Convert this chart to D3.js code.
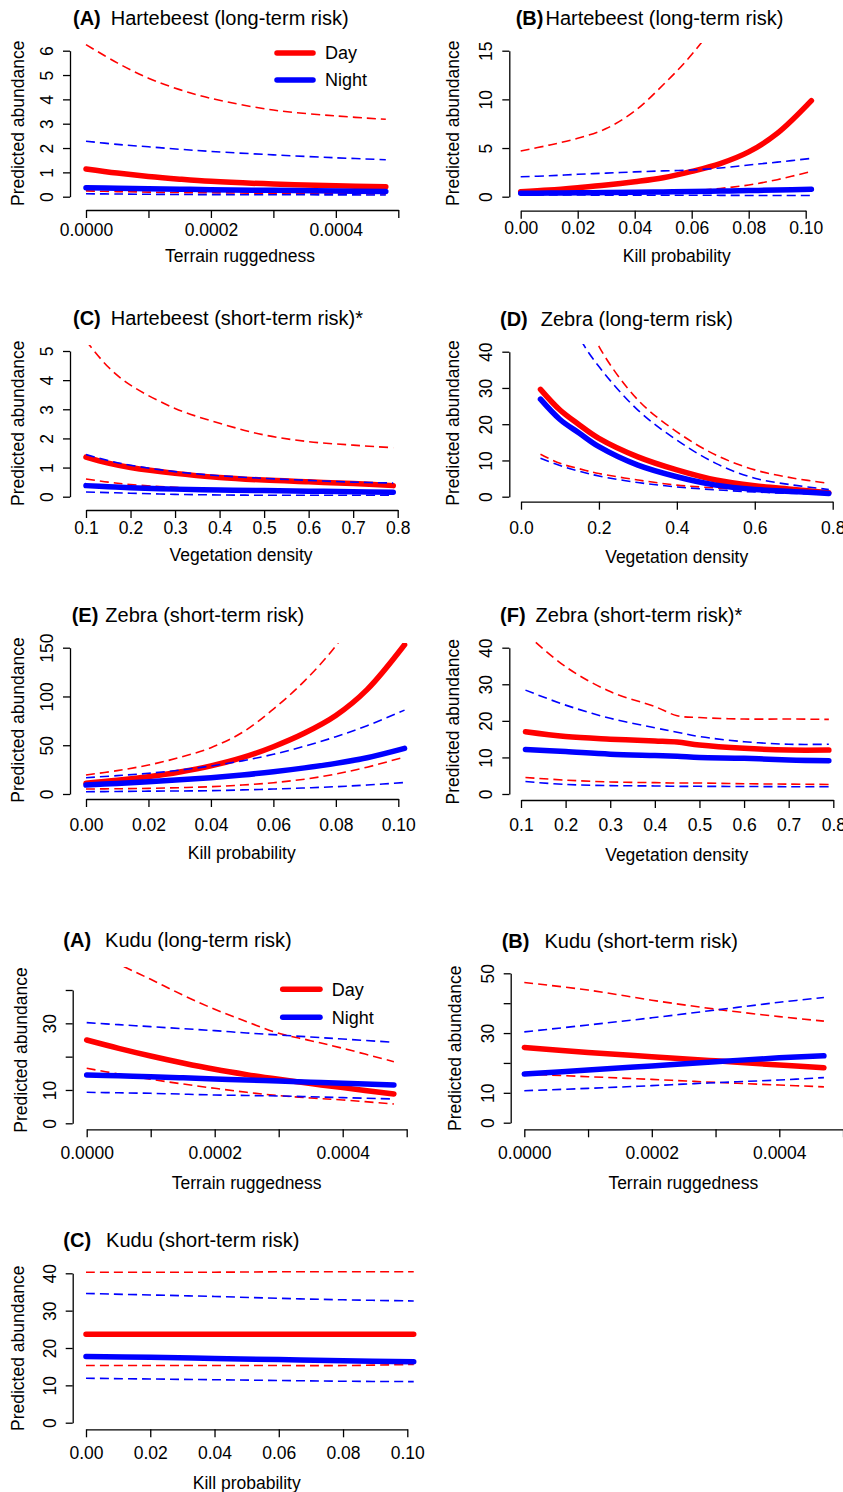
<!DOCTYPE html>
<html>
<head>
<meta charset="utf-8">
<script src="https://cdn.jsdelivr.net/npm/d3@7"></script>
<style>
  body { margin: 0; background: #fff; }
  text { font-family: "Liberation Sans", Arial, Helvetica, sans-serif; fill: #000; }
</style>
</head>
<body>
<div id="chart"></div>
<script>
// ---- tick values and labels ----
const ruggedTicks = [0, 0.0001, 0.0002, 0.0003, 0.0004, 0.0005];
const ruggedLabels = ["0.0000", "", "0.0002", "", "0.0004", ""];
const killTicks = [0, 0.02, 0.04, 0.06, 0.08, 0.1];
const killLabels = ["0.00", "0.02", "0.04", "0.06", "0.08", "0.10"];
const vegTicks = [0.1, 0.2, 0.3, 0.4, 0.5, 0.6, 0.7, 0.8];
const vegLabels = ["0.1", "0.2", "0.3", "0.4", "0.5", "0.6", "0.7", "0.8"];
const vegTicks2 = [0, 0.2, 0.4, 0.6, 0.8];
const vegLabels2 = ["0.0", "0.2", "0.4", "0.6", "0.8"];

// ---- (A) Hartebeest long-term, terrain ruggedness ----
const aX = [0, 0.00005, 0.0001, 0.00015, 0.0002, 0.0003, 0.0004, 0.00048];
const aDay = [1.14, 0.97, 0.83, 0.72, 0.63, 0.52, 0.45, 0.41];
const aDayLo = [0.24, 0.21, 0.19, 0.17, 0.16, 0.14, 0.12, 0.11];
const aDayHi = [6.25, 5.5, 4.87, 4.4, 4.04, 3.56, 3.32, 3.18];
const aNight = [0.37, 0.35, 0.33, 0.31, 0.29, 0.26, 0.23, 0.21];
const aNightLo = [0.12, 0.11, 0.1, 0.09, 0.085, 0.08, 0.075, 0.07];
const aNightHi = [2.28, 2.15, 2.05, 1.95, 1.86, 1.72, 1.6, 1.52];

// ---- (B) Hartebeest long-term, kill probability ----
const bX = [0, 0.01, 0.02, 0.03, 0.04, 0.05, 0.06, 0.07, 0.08, 0.09, 0.102];
const bDay = [0.51, 0.69, 0.93, 1.2, 1.54, 1.95, 2.6, 3.4, 4.6, 6.5, 9.87];
const bDayLo = [0.25, 0.27, 0.3, 0.34, 0.4, 0.48, 0.6, 0.85, 1.2, 1.75, 2.6];
const bDayHi = [4.7, 5.3, 6.0, 7.0, 8.8, 11.5, 14.6, 18.5, 23.5, 30, 40];
const bNight = [0.35, 0.37, 0.4, 0.42, 0.45, 0.49, 0.53, 0.58, 0.63, 0.69, 0.76];
const bNightLo = [0.18, 0.17, 0.17, 0.16, 0.16, 0.15, 0.15, 0.14, 0.13, 0.13, 0.12];
const bNightHi = [2.05, 2.15, 2.3, 2.42, 2.55, 2.65, 2.74, 2.95, 3.26, 3.55, 3.94];

// ---- (C) Hartebeest short-term, vegetation density ----
const cX = [0.1, 0.15, 0.2, 0.3, 0.4, 0.5, 0.6, 0.7, 0.79];
const cDay = [1.36, 1.15, 1.0, 0.8, 0.66, 0.57, 0.51, 0.45, 0.38];
const cDayLo = [0.61, 0.5, 0.42, 0.32, 0.26, 0.22, 0.19, 0.17, 0.15];
const cDayHi = [5.35, 4.45, 3.83, 3.03, 2.52, 2.12, 1.89, 1.77, 1.68];
const cNight = [0.38, 0.34, 0.31, 0.26, 0.23, 0.21, 0.19, 0.17, 0.15];
const cNightLo = [0.16, 0.14, 0.12, 0.08, 0.06, 0.05, 0.05, 0.05, 0.05];
const cNightHi = [1.45, 1.24, 1.08, 0.86, 0.72, 0.63, 0.56, 0.5, 0.47];

// ---- (D) Zebra long-term, vegetation density ----
const dX = [0.05, 0.1, 0.15, 0.2, 0.3, 0.4, 0.5, 0.6, 0.7, 0.79];
const dDay = [29.6, 23.9, 19.8, 16.1, 11.0, 7.4, 4.6, 3.0, 2.0, 1.1];
const dDayLo = [11.7, 9.2, 7.7, 6.4, 4.6, 3.2, 2.4, 1.7, 1.2, 0.9];
const dDayHi = [105, 75, 55, 41.5, 26.7, 17.9, 11.5, 7.4, 5.1, 3.7];
const dNight = [26.9, 21.3, 17.5, 13.8, 8.7, 5.5, 3.2, 2.0, 1.4, 0.9];
const dNightLo = [10.6, 8.6, 7.0, 5.7, 3.9, 2.7, 1.9, 1.3, 0.9, 0.8];
const dNightHi = [80, 58, 44, 35.9, 23.9, 15.6, 9.2, 5.1, 3.2, 2.0];

// ---- (E) Zebra short-term, kill probability ----
const eX = [0, 0.01, 0.02, 0.03, 0.04, 0.05, 0.06, 0.07, 0.08, 0.09, 0.102];
const eDay = [11, 14, 17.8, 22.6, 28.8, 37.2, 48.5, 62.5, 80.5, 107, 153];
const eDayLo = [5.1, 5.4, 5.8, 6.5, 7.5, 9.2, 11.6, 15.2, 20.5, 27.5, 38];
const eDayHi = [19.5, 24, 29.7, 37.5, 47.5, 63, 87, 116, 152, 200, 275];
const eNight = [9.2, 10.8, 12.6, 14.5, 16.7, 19.5, 22.8, 26.8, 31.4, 37.2, 46.8];
const eNightLo = [2.3, 2.6, 2.9, 3.1, 3.4, 4.2, 5.1, 6.2, 7.5, 9.2, 11.8];
const eNightHi = [16.7, 18.8, 21.2, 24.5, 28.7, 34, 40.7, 49, 58.7, 70, 86];

// ---- (F) Zebra short-term, vegetation density ----
const fX = [0.11, 0.2, 0.3, 0.4, 0.45, 0.5, 0.6, 0.7, 0.79];
const fDay = [17.0, 15.7, 15.0, 14.5, 14.2, 13.4, 12.5, 12.0, 12.0];
const fDayLo = [4.5, 3.8, 3.3, 3.1, 3.0, 3.0, 2.8, 2.7, 2.6];
const fDayHi = [44, 34.8, 28.0, 23.9, 21.4, 20.9, 20.5, 20.5, 20.4];
const fNight = [12.2, 11.6, 10.9, 10.5, 10.3, 10.0, 9.75, 9.3, 9.1];
const fNightLo = [3.4, 2.6, 2.3, 2.2, 2.1, 2.1, 2.05, 2.0, 2.0];
const fNightHi = [28.4, 24.3, 20.7, 18.1, 16.9, 15.7, 14.3, 13.6, 13.6];

// ---- Kudu (A) long-term, terrain ruggedness ----
const gX = [0, 0.00005, 0.0001, 0.00015, 0.0002, 0.00025, 0.0003, 0.00035, 0.0004, 0.00048];
const gDay = [25, 22.5, 20.2, 18.1, 16.2, 14.6, 13.2, 11.9, 10.7, 8.8];
const gDayLo = [16.5, 14.8, 13.2, 11.8, 10.5, 9.3, 8.3, 7.6, 7, 5.8];
const gDayHi = [53, 47.8, 43.2, 38.5, 34.2, 30.5, 27, 24.8, 22.5, 18.5];
const gNight = [14.5, 14.25, 14, 13.65, 13.3, 13, 12.7, 12.35, 12, 11.5];
const gNightLo = [9.3, 9.15, 9, 8.75, 8.5, 8.35, 8.2, 7.95, 7.7, 7.3];
const gNightHi = [30.2, 29.6, 29, 28.4, 27.8, 27.1, 26.5, 25.9, 25.3, 24.3];

// ---- Kudu (B) short-term, terrain ruggedness ----
const hX = [0, 0.0001, 0.0002, 0.0003, 0.0004, 0.00047];
const hDay = [25.2, 23.5, 22.1, 20.7, 19.3, 18.4];
const hDayLo = [16.3, 15.4, 14.5, 13.5, 12.6, 12.0];
const hDayHi = [46.9, 44.4, 41, 38, 35.5, 34];
const hNight = [16.3, 17.6, 19, 20.4, 21.7, 22.4];
const hNightLo = [10.7, 11.5, 12.4, 13.4, 14.3, 15.1];
const hNightHi = [30.4, 32.7, 35.1, 37.7, 40.3, 41.9];

// ---- Kudu (C) short-term, kill probability ----
const iX = [0, 0.02, 0.04, 0.06, 0.08, 0.102];
const iDay = [23.7, 23.7, 23.7, 23.7, 23.7, 23.7];
const iDayLo = [15.3, 15.3, 15.3, 15.3, 15.3, 15.6];
const iDayHi = [40.3, 40.3, 40.3, 40.4, 40.4, 40.4];
const iNight = [17.7, 17.5, 17.2, 16.9, 16.6, 16.3];
const iNightLo = [11.9, 11.7, 11.5, 11.3, 11.1, 11.0];
const iNightHi = [34.6, 34.2, 33.8, 33.3, 32.9, 32.6];

const RED = "#ff0000", BLUE = "#0000ff";
const W = 843, H = 1492;

// panel layout: box = [left, top, right, bottom] of the plot region
const panels = [
  { tag: "(A)", title: "Hartebeest (long-term risk)", tx: 73, ty: 18, gap: 10,
    box: [70, 40, 405, 210], xMap: [0, 86, 0.0005, 398.3], yMap: [0, 196.7, 6, 50.7],
    xTicks: ruggedTicks, xLabels: ruggedLabels, yTicks: [0, 1, 2, 3, 4, 5, 6], yLabels: ["0", "1", "2", "3", "4", "5", "6"],
    labY: 230, xlab: "Terrain ruggedness", xl: [240, 256], yl: [18, 123.3],
    x: aX, s: [aDay, aDayLo, aDayHi, aNight, aNightLo, aNightHi],
    legend: { x1: 277, x2: 313, y1: 53, y2: 80, tx: 325 } },
  { tag: "(B)", title: "Hartebeest (long-term risk)", tx: 515.7, ty: 18, gap: 2,
    box: [509.3, 43, 843, 210.7], xMap: [0, 520.7, 0.1, 805.7], yMap: [0, 196.7, 15, 50.7],
    xTicks: killTicks, xLabels: killLabels, yTicks: [0, 5, 10, 15], yLabels: ["0", "5", "10", "15"],
    labY: 228.3, xlab: "Kill probability", xl: [676.7, 256], yl: [453.3, 123.3],
    x: bX, s: [bDay, bDayLo, bDayHi, bNight, bNightLo, bNightHi] },
  { tag: "(C)", title: "Hartebeest (short-term risk)*", tx: 73, ty: 318, gap: 10,
    box: [70, 345, 405, 510], xMap: [0.1, 86, 0.8, 397.7], yMap: [0, 496.7, 5, 351],
    xTicks: vegTicks, xLabels: vegLabels, yTicks: [0, 1, 2, 3, 4, 5], yLabels: ["0", "1", "2", "3", "4", "5"],
    labY: 528.3, xlab: "Vegetation density", xl: [241, 555], yl: [18.3, 423.3],
    x: cX, s: [cDay, cDayLo, cDayHi, cNight, cNightLo, cNightHi] },
  { tag: "(D)", title: "Zebra (long-term risk)", tx: 500, ty: 319, gap: 13,
    box: [509.3, 344, 843, 501.7], xMap: [0, 521, 0.8, 832.7], yMap: [0, 496.7, 40, 351.7],
    xTicks: vegTicks2, xLabels: vegLabels2, yTicks: [0, 10, 20, 30, 40], yLabels: ["0", "10", "20", "30", "40"],
    labY: 528.3, xlab: "Vegetation density", xl: [676.7, 556.7], yl: [453.3, 423],
    x: dX, s: [dDay, dDayLo, dDayHi, dNight, dNightLo, dNightHi] },
  { tag: "(E)", title: "Zebra (short-term risk)", tx: 71.7, ty: 615, gap: 7,
    box: [70, 643, 410, 799], xMap: [0, 86, 0.1, 398.3], yMap: [0, 794, 150, 647.7],
    xTicks: killTicks, xLabels: killLabels, yTicks: [0, 50, 100, 150], yLabels: ["0", "50", "100", "150"],
    labY: 825, xlab: "Kill probability", xl: [241.7, 853], yl: [18, 720],
    x: eX, s: [eDay, eDayLo, eDayHi, eNight, eNightLo, eNightHi] },
  { tag: "(F)", title: "Zebra (short-term risk)*", tx: 500, ty: 615, gap: 10,
    box: [509.3, 641, 843, 800], xMap: [0.1, 521, 0.8, 833.3], yMap: [0, 794, 40, 647.7],
    xTicks: vegTicks, xLabels: vegLabels, yTicks: [0, 10, 20, 30, 40], yLabels: ["0", "10", "20", "30", "40"],
    labY: 825, xlab: "Vegetation density", xl: [676.7, 855], yl: [453.3, 721.7],
    x: fX, s: [fDay, fDayLo, fDayHi, fNight, fNightLo, fNightHi] },
  { tag: "(A)", title: "Kudu (long-term risk)", tx: 63.3, ty: 940, gap: 14,
    box: [72.7, 967, 415, 1129.3], xMap: [0, 86.7, 0.0005, 406.7], yMap: [0, 1123.3, 40, 990],
    xTicks: ruggedTicks, xLabels: ruggedLabels, yTicks: [0, 10, 20, 30, 40], yLabels: ["0", "10", "", "30", ""],
    labY: 1153.3, xlab: "Terrain ruggedness", xl: [246.7, 1183.3], yl: [20.7, 1050],
    x: gX, s: [gDay, gDayLo, gDayHi, gNight, gNightLo, gNightHi],
    legend: { x1: 282.7, x2: 320, y1: 989.3, y2: 1017.3, tx: 331.7 } },
  { tag: "(B)", title: "Kudu (short-term risk)", tx: 501.7, ty: 940.7, gap: 15,
    box: [510.7, 967, 843, 1129.3], xMap: [0, 524.3, 0.0004, 779.3], yMap: [0, 1122.7, 50, 973.3],
    xTicks: ruggedTicks, xLabels: ruggedLabels, yTicks: [0, 10, 20, 30, 40, 50], yLabels: ["0", "10", "", "30", "", "50"],
    labY: 1153.3, xlab: "Terrain ruggedness", xl: [683.3, 1183], yl: [455, 1048.3],
    x: hX, s: [hDay, hDayLo, hDayHi, hNight, hNightLo, hNightHi] },
  { tag: "(C)", title: "Kudu (short-term risk)", tx: 63.3, ty: 1240, gap: 15,
    box: [72.7, 1265, 420, 1429.3], xMap: [0, 86, 0.1, 407.3], yMap: [0, 1422.7, 40, 1273.3],
    xTicks: killTicks, xLabels: killLabels, yTicks: [0, 10, 20, 30, 40], yLabels: ["0", "10", "20", "30", "40"],
    labY: 1453.3, xlab: "Kill probability", xl: [246.7, 1483], yl: [18.3, 1348.3],
    x: iX, s: [iDay, iDayLo, iDayHi, iNight, iNightLo, iNightHi] }
];

const svg = d3.select("#chart").append("svg")
  .attr("width", W).attr("height", H);
svg.append("rect").attr("width", W).attr("height", H).attr("fill", "#fff");

// day solid, day lo, day hi, night solid, night lo, night hi
const seriesStyle = [
  { color: RED, dash: null }, { color: RED, dash: "9,5" }, { color: RED, dash: "9,5" },
  { color: BLUE, dash: null }, { color: BLUE, dash: "9,5" }, { color: BLUE, dash: "9,5" }
];

panels.forEach((p, i) => {
  const x = d3.scaleLinear().domain([p.xMap[0], p.xMap[2]]).range([p.xMap[1], p.xMap[3]]);
  const y = d3.scaleLinear().domain([p.yMap[0], p.yMap[2]]).range([p.yMap[1], p.yMap[3]]);
  const [left, top, right, bottom] = p.box;
  const g = svg.append("g");

  svg.append("clipPath").attr("id", "clip" + i)
    .append("rect")
    .attr("x", left).attr("y", top)
    .attr("width", right - left).attr("height", bottom - top);

  // lines
  const line = d3.line()
    .x((d, j) => x(p.x[j]))
    .y((d) => y(d))
    .curve(d3.curveCatmullRom.alpha(0.5));

  const lines = g.append("g").attr("clip-path", `url(#clip${i})`);
  p.s.forEach((vals, k) => {
    const st = seriesStyle[k];
    lines.append("path")
      .attr("d", line(vals))
      .attr("fill", "none")
      .attr("stroke", st.color)
      .attr("stroke-width", st.dash ? 1.6 : 5.5)
      .attr("stroke-linecap", st.dash ? "butt" : "round")
      .attr("stroke-linejoin", "round")
      .attr("stroke-dasharray", st.dash);
  });

  // x axis (domain line spans first to last tick)
  const xt = p.xTicks;
  const xs = x.copy().domain([xt[0], xt[xt.length - 1]]).range([x(xt[0]), x(xt[xt.length - 1])]);
  const xAxis = g.append("g")
    .attr("transform", `translate(0,${bottom})`)
    .call(d3.axisBottom(xs).tickValues(xt).tickFormat((d, j) => p.xLabels[j])
      .tickSize(8).tickSizeOuter(0));
  xAxis.selectAll(".tick text")
    .attr("y", p.labY - bottom).attr("dy", "0.35em");

  // y axis
  const yt = p.yTicks;
  const ys = y.copy().domain([yt[0], yt[yt.length - 1]]).range([y(yt[0]), y(yt[yt.length - 1])]);
  const yAxis = g.append("g")
    .attr("transform", `translate(${left},0)`)
    .call(d3.axisLeft(ys).tickValues(yt).tickFormat((d, j) => p.yLabels[j])
      .tickSize(7).tickSizeOuter(0));
  yAxis.selectAll(".tick text")
    .attr("transform", "rotate(-90)")
    .attr("x", 0).attr("y", -23)
    .attr("dy", "0.35em")
    .attr("text-anchor", "middle");

  [xAxis, yAxis].forEach((a) => {
    a.attr("font-size", 17.5).attr("font-family", null);
    a.selectAll(".domain, .tick line").attr("stroke", "#000").attr("stroke-width", 1.3);
    a.selectAll(".tick text").attr("fill", "#000");
  });

  // title
  const t = g.append("text")
    .attr("x", p.tx).attr("y", p.ty).attr("dy", "0.35em")
    .attr("font-size", 20);
  t.append("tspan").attr("font-weight", "bold").text(p.tag);
  t.append("tspan").attr("dx", p.gap).text(p.title);

  // axis titles
  g.append("text")
    .attr("x", p.xl[0]).attr("y", p.xl[1]).attr("dy", "0.35em")
    .attr("text-anchor", "middle").attr("font-size", 17.5)
    .text(p.xlab);
  g.append("text")
    .attr("transform", `translate(${p.yl[0]},${p.yl[1]}) rotate(-90)`)
    .attr("dy", "0.35em")
    .attr("text-anchor", "middle").attr("font-size", 17.5)
    .text("Predicted abundance");

  // legend
  if (p.legend) {
    const L = p.legend;
    [["Day", RED, L.y1], ["Night", BLUE, L.y2]].forEach(([name, col, ly]) => {
      g.append("line")
        .attr("x1", L.x1).attr("x2", L.x2).attr("y1", ly).attr("y2", ly)
        .attr("stroke", col).attr("stroke-width", 5.5).attr("stroke-linecap", "round");
      g.append("text")
        .attr("x", L.tx).attr("y", ly).attr("dy", "0.35em")
        .attr("font-size", 18).text(name);
    });
  }
});
</script>
</body>
</html>
